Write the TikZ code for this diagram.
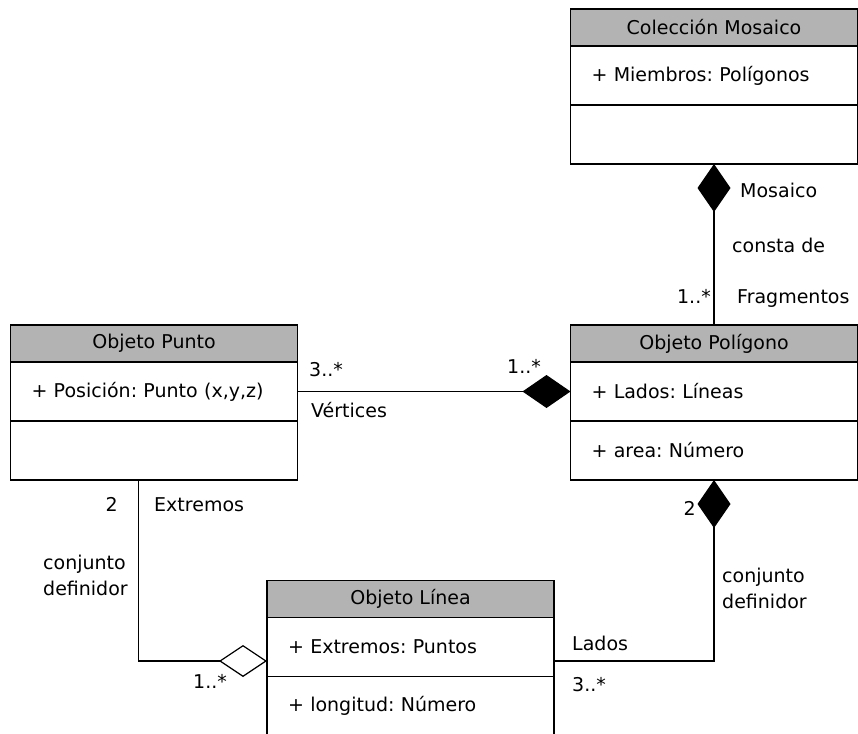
\documentclass[tikz,border=0pt]{standalone}
\usepackage{fontspec}
\setmainfont{DejaVu Sans}
\usetikzlibrary{arrows.meta,positioning}
\definecolor{headgray}{HTML}{B3B3B3}
\frenchspacing
\tikzset{%
  classhead/.style={draw,fill=headgray,line width=1.5pt,minimum width=287pt,minimum height=37pt,inner sep=0pt,outer sep=0pt},
  classpart/.style={draw,line width=1.5pt,text width=245pt,inner xsep=21pt,inner ysep=0pt,minimum height=59pt,align=left,outer sep=0pt},
  comp/.style={line width=1.2pt,-{Diamond[length=48pt,width=33pt]}},
  aggr/.style={line width=1.2pt,-{Diamond[open,length=48pt,width=32pt,fill=white]}},
  role/.style={inner sep=0pt},
}

\begin{document}
\begin{tikzpicture}[x=1pt,y=-1pt,font=\fontsize{19}{26}\selectfont]
  \useasboundingbox (0,0) rectangle (858,733);

  \node[classhead] (mosH) at (714,27.5) {Colección Mosaico};
  \node[classpart,below=0pt of mosH] (mosA) {+ Miembros: Polígonos};
  \node[classpart,below=0pt of mosA] (mosO) {};

  \node[classhead] (polH) at (714,343.5) {Objeto Polígono};
  \node[classpart,below=0pt of polH] (polA) {+ Lados: Líneas};
  \node[classpart,below=0pt of polA] (polO) {+ area: Número};

  \node[classhead] (punH) at (154,343.5) {Objeto Punto};
  \node[classpart,below=0pt of punH] (punA) {+ Posición: Punto (x,y,z)};
  \node[classpart,below=0pt of punA] (punO) {};

  \node[classhead] (linH) at (410.5,599) {Objeto Línea};
  \node[classpart,below=0pt of linH] (linA) {+ Extremos: Puntos};
  \node[classpart,below=0pt of linA] (linO) {+ longitud: Número};

  \draw[comp] (polH.north) -- (mosO.south);
  \draw[comp] (punA.east) -- (polA.west);
  \draw[aggr] ([xshift=128pt]punO.south west) |- ([yshift=-14pt]linA.west);
  \draw[comp] ([yshift=-14pt]linA.east) -| (polO.south);

  \node[role,anchor=base west] (mosRole) at (740,197) {Mosaico};
  \node[role,anchor=base west] (mosName) at (732,252) {consta de};
  \node[role,anchor=base east] (fragMult) at (711,303) {1..*};
  \node[role,anchor=base west] (fragRole) at (737,303) {Fragmentos};
  \node[role,anchor=base west] (vertMult) at (309,376) {3..*};
  \node[role,anchor=base west] (polMult) at (507,373) {1..*};
  \node[role,anchor=base west] (vertRole) at (311,417) {Vértices};
  \node[role,anchor=base east] (extMult) at (118,511) {2};
  \node[role,anchor=base west] (extRole) at (154,511) {Extremos};
  \node[role,anchor=north west,align=left] (extName) at (43,555) {conjunto\\definidor};
  \node[role,anchor=base west] (linMult) at (193,688) {1..*};
  \node[role,anchor=base east] (ladMult) at (696,515) {2};
  \node[role,anchor=north west,align=left] (ladName) at (722,568) {conjunto\\definidor};
  \node[role,anchor=base west] (ladRole) at (572,650) {Lados};
  \node[role,anchor=base west] (ladMult2) at (572,691) {3..*};
\end{tikzpicture}
\end{document}
